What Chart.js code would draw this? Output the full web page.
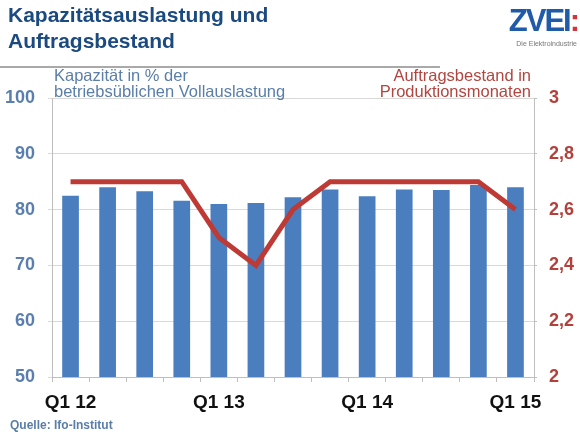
<!DOCTYPE html>
<html>
<head>
<meta charset="utf-8">
<script src="https://cdn.jsdelivr.net/npm/chart.js@4"></script>
<style>
  body { margin: 0; background: #fff; font-family: "Liberation Sans", Arial, sans-serif; }
  #wrap { position: relative; width: 580px; height: 434px; overflow: hidden; }
  #chart { position: absolute; left: 0; top: 0; }
  .t { position: absolute; white-space: nowrap; }
  #title { left: 8px; top: 2px; font-size: 21px; font-weight: bold; color: #1b4a80; line-height: 26px; }
  #rule { position: absolute; left: 0; top: 66px; width: 440px; height: 2px; background: #a9a9a9; }
  #logo { right: 2px; top: 3px; font-size: 31px; font-weight: bold; color: #1f5ba8; letter-spacing: -2px; }
  #logo span { color: #d2343a; }
  #logosub { right: 3px; top: 40px; font-size: 7px; color: #777; }
  #ltitle { left: 54px; top: 67px; font-size: 16.5px; color: #5a7ea8; line-height: 16px; }
  #rtitle { right: 49px; top: 67px; font-size: 16.5px; color: #b0463f; line-height: 16px; text-align: right; }
  #source { left: 10px; top: 418px; font-size: 12px; font-weight: bold; color: #5a7ea8; }
</style>
</head>
<body>
<div id="wrap">
  <canvas id="chart" width="580" height="434"></canvas>
  <div class="t" id="title">Kapazitätsauslastung und<br>Auftragsbestand</div>
  <div id="rule"></div>
  <div class="t" id="logo">ZVEI<span>:</span></div>
  <div class="t" id="logosub">Die Elektroindustrie</div>
  <div class="t" id="ltitle">Kapazität in % der<br>betriebsüblichen Vollauslastung</div>
  <div class="t" id="rtitle">Auftragsbestand in<br>Produktionsmonaten</div>
  <div class="t" id="source">Quelle: Ifo-Institut</div>
</div>
<script>
const quarters = ["Q1 12", "Q2 12", "Q3 12", "Q4 12", "Q1 13", "Q2 13", "Q3 13", "Q4 13", "Q1 14", "Q2 14", "Q3 14", "Q4 14", "Q1 15"];
const capacity = [82.5, 84.0, 83.3, 81.6, 81.0, 81.2, 82.2, 83.6, 82.4, 83.6, 83.5, 84.4, 84.0];
const orderBacklog = [2.7, 2.7, 2.7, 2.7, 2.5, 2.4, 2.6, 2.7, 2.7, 2.7, 2.7, 2.7, 2.6];
const leftTicks = [50, 60, 70, 80, 90, 100];
const rightTicks = [2, 2.2, 2.4, 2.6, 2.8, 3];

const ctx = document.getElementById("chart");
new Chart(ctx, {
  type: "bar",
  data: {
    labels: quarters,
    datasets: [
      {
        type: "line",
        label: "Auftragsbestand",
        data: orderBacklog,
        yAxisID: "y1",
        borderColor: "#bd3a35",
        borderWidth: 5,
        pointRadius: 0,
        tension: 0,
        order: 0,
      },
      {
        label: "Kapazität",
        data: capacity,
        yAxisID: "y",
        backgroundColor: "#4a7ebf",
        categoryPercentage: 1,
        barPercentage: 0.45,
        order: 1,
      },
    ],
  },
  options: {
    responsive: false,
    animation: false,
    layout: { padding: { top: 98 } },
    plugins: { legend: { display: false }, tooltip: { enabled: false } },
    scales: {
      x: {
        offset: true,
        grid: { offset: true, drawOnChartArea: false, tickLength: 5, color: "#bfbfbf" },
        border: { color: "#bfbfbf" },
        ticks: {
          autoSkip: false,
          maxRotation: 0,
          padding: 9,
          color: "#111",
          font: { family: "Liberation Sans", size: 19, weight: "bold" },
          callback: (v, i) => (quarters[i].startsWith("Q1") ? quarters[i] : ""),
        },
        afterFit: (s) => { s.height = 57; },
      },
      y: {
        position: "left",
        min: 50,
        max: 100,
        afterBuildTicks: (s) => { s.ticks = leftTicks.map((v) => ({ value: v })); },
        grid: { color: "#d9d9d9", tickLength: 4 },
        border: { color: "#bfbfbf" },
        ticks: {
          padding: 13,
          color: "#5a7fae",
          font: { family: "Liberation Sans", size: 18, weight: "bold" },
        },
        afterFit: (s) => { s.width = 52; },
      },
      y1: {
        position: "right",
        min: 2,
        max: 3,
        afterBuildTicks: (s) => { s.ticks = rightTicks.map((v) => ({ value: v })); },
        grid: { drawOnChartArea: false, tickLength: 3, color: "#bfbfbf" },
        border: { color: "#bfbfbf" },
        ticks: {
          padding: 12,
          color: "#b3403b",
          font: { family: "Liberation Sans", size: 18, weight: "bold" },
          callback: (v) => String(Math.round(v * 10) / 10).replace(".", ","),
        },
        afterFit: (s) => { s.width = 46; },
      },
    },
  },
});
</script>
</body>
</html>
